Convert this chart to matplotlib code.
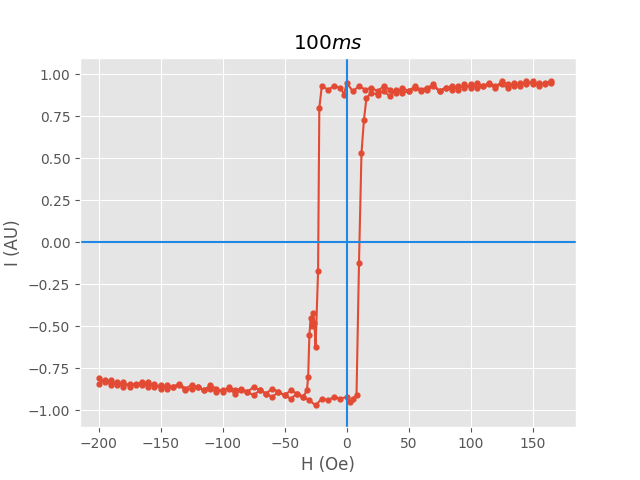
# libraries
import matplotlib
matplotlib.use('Agg')
import matplotlib.pyplot as plt

plt.style.use('ggplot')

# field sweep up (Oe) and signal (AU)
h_up = [-200, -195, -190, -185, -180, -175, -170, -165, -160, -155, -150, -145, -140, -135,
        -130, -125, -120, -115, -110, -105, -100, -95, -90, -85, -80, -75, -70, -65, -60,
        -55, -50, -45, -40, -35, -30, -25, -20, -15, -10, -5, 0, 3, 5, 8, 10, 12, 14, 16,
        20, 25, 30, 35, 40, 45, 50, 55, 60, 65, 70, 75, 80, 85, 90, 95, 100, 105, 110, 115,
        120, 125, 130, 135, 140, 145, 150, 155, 160, 165]
i_up = [-0.81, -0.83, -0.82, -0.85, -0.83, -0.86, -0.84, -0.85, -0.83, -0.86, -0.85, -0.87,
        -0.86, -0.85, -0.88, -0.87, -0.86, -0.88, -0.87, -0.89, -0.88, -0.87, -0.90, -0.88,
        -0.89, -0.91, -0.88, -0.90, -0.92, -0.89, -0.91, -0.93, -0.90, -0.92, -0.94, -0.97,
        -0.93, -0.94, -0.92, -0.93, -0.92, -0.95, -0.93, -0.91, -0.12, 0.53, 0.73, 0.86,
        0.89, 0.88, 0.90, 0.87, 0.91, 0.89, 0.90, 0.92, 0.90, 0.91, 0.93, 0.90, 0.92, 0.91,
        0.93, 0.92, 0.94, 0.92, 0.93, 0.95, 0.93, 0.94, 0.92, 0.95, 0.93, 0.96, 0.94, 0.95,
        0.94, 0.95]

# field sweep down
h_down = [165, 160, 155, 150, 145, 140, 135, 130, 125, 120, 115, 110, 105, 100, 95, 90, 85,
          80, 75, 70, 65, 60, 55, 50, 45, 40, 35, 30, 25, 20, 15, 10, 5, 0, -2, -5, -10, -15,
          -20, -22, -23, -25, -26, -27, -28, -29, -30, -31, -32, -35, -40, -45, -50, -55, -60,
          -65, -70, -75, -80, -85, -90, -95, -100, -105, -110, -115, -120, -125, -130, -135,
          -140, -145, -150, -155, -160, -165, -170, -175, -180, -185, -190, -195, -200]
i_down = [0.96, 0.95, 0.93, 0.96, 0.94, 0.95, 0.93, 0.94, 0.96, 0.92, 0.94, 0.93, 0.95, 0.92,
          0.94, 0.91, 0.93, 0.92, 0.90, 0.94, 0.92, 0.91, 0.93, 0.90, 0.92, 0.89, 0.91, 0.93,
          0.90, 0.92, 0.91, 0.93, 0.90, 0.95, 0.88, 0.92, 0.93, 0.91, 0.93, 0.80, -0.17, -0.62,
          -0.48, -0.42, -0.50, -0.45, -0.55, -0.80, -0.88, -0.92, -0.90, -0.88, -0.91, -0.89,
          -0.87, -0.90, -0.88, -0.86, -0.89, -0.87, -0.88, -0.86, -0.89, -0.87, -0.85, -0.88,
          -0.86, -0.85, -0.87, -0.84, -0.86, -0.85, -0.87, -0.84, -0.86, -0.83, -0.85, -0.84,
          -0.86, -0.83, -0.85, -0.82, -0.84]

fig, ax = plt.subplots(figsize=(6.4, 4.8), dpi=100)
ax.plot(h_up + h_down, i_up + i_down, '.-', color='#E24A33', markersize=7, linewidth=1.5)
ax.axhline(0, color='#1e88e5', linewidth=1.5)
ax.axvline(0, color='#1e88e5', linewidth=1.5)

ax.set_xlim(-215, 185)
ax.set_ylim(-1.1, 1.1)
ax.set_xlabel('H (Oe)')
ax.set_ylabel('I (AU)')
ax.set_title('$100ms$')

plt.savefig('out.png')
